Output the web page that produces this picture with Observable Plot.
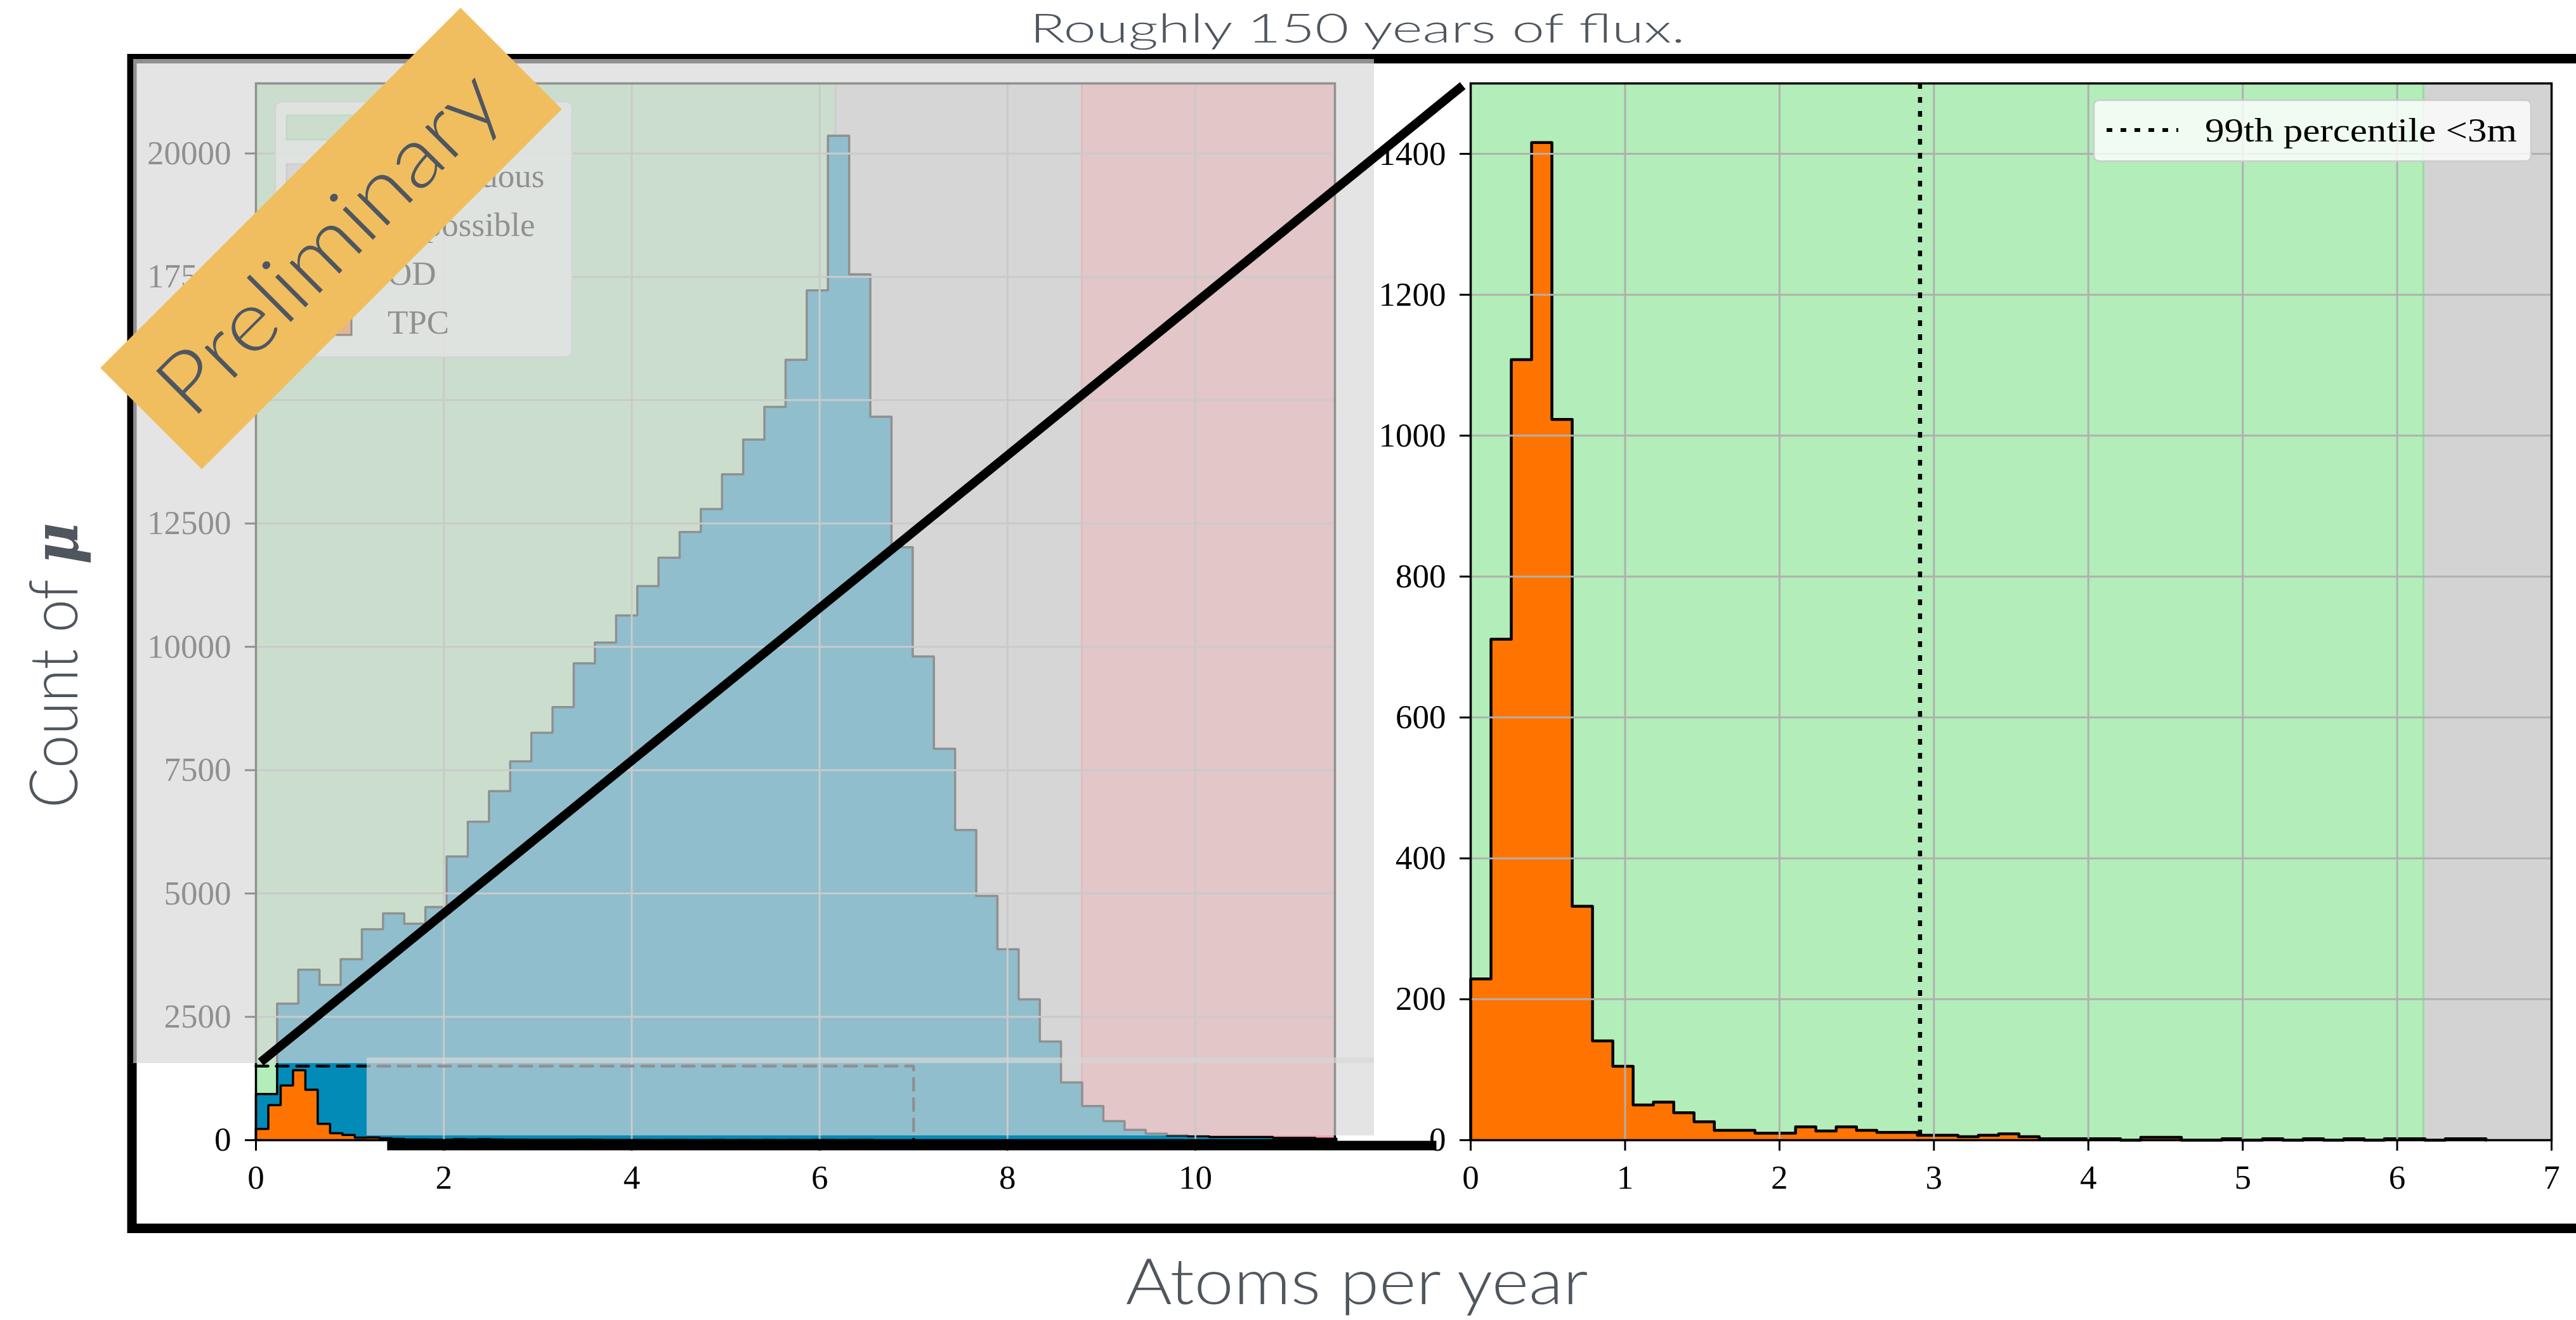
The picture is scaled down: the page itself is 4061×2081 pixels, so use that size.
<!DOCTYPE html>
<html>
<head>
<meta charset="utf-8">
<script src="https://cdn.jsdelivr.net/npm/d3@7"></script>
<script src="https://cdn.jsdelivr.net/npm/@observablehq/plot@0.6"></script>
<style>
  body { margin: 0; background: #fff; }
  #root { position: relative; width: 4061px; height: 2081px; overflow: hidden; background: #fff; }
  #root > svg { position: absolute; }
</style>
</head>
<body>
<div id="root"></div>
<script>
// ---------------- DATA ----------------
const titleText = "Roughly 150 years of flux.";
const xLabelText = "Atoms per year";
const yLabelText = "Count of ";
const yLabelSymbol = "μ";
const bannerText = "Preliminary";

// OD histogram (all muons), left panel
const odBinWidth = 0.2255;
const odCounts = [935, 2767, 3456, 3146, 3668, 4274, 4597, 4386, 4724, 5751,
  6455, 7074, 7679, 8256, 8777, 9664, 10086, 10635, 11230, 11807,
  12328, 12793, 13497, 14200, 14862, 15819, 17226, 20359, 17550, 14665,
  12019, 9805, 7933, 6286, 4949, 3870, 2855, 1998, 1171, 690,
  385, 208, 132, 96, 81, 65, 65, 65, 45, 45, 30];

// TPC histogram, both panels
const tpcBinWidth = 0.1315;
const tpcCounts = [229, 711, 1108, 1416, 1023, 332, 141, 105, 50, 54,
  39, 26, 14, 14, 10, 10, 19, 13, 19, 14,
  11, 11, 7, 7, 5, 7, 9, 5, 2, 2,
  2, 2, 0, 4, 4, 0, 0, 2, 0, 2,
  0, 2, 0, 2, 0, 2, 2, 0, 2, 2];

const p99 = 2.91;                       // 99th percentile line
const regionNames = ["Possible", "Ambiguous", "Impossible"];
const regionEdges = [0, 6.17, 8.79, 11.485];
const leftXDomain = [0, 11.485];
const leftYDomain = [0, 21420];
const zoomXDomain = [0, 7];
const zoomYDomain = [0, 1500];
const leftXTicks = [0, 2, 4, 6, 8, 10];
const leftYTicks = [0, 2500, 5000, 7500, 10000, 12500, 15000, 17500, 20000];
const rightXTicks = [0, 1, 2, 3, 4, 5, 6, 7];
const rightYTicks = [0, 200, 400, 600, 800, 1000, 1200, 1400];
const legendLabels = ["Possible", "Ambiguous", "Impossible", "OD", "TPC"];
const rightLegendLabel = "99th percentile <3m";
const bottomLinkX = [1.4, -0.22];       // bottom connector, left-data x to right-data x

// ---------------- STYLE ----------------
const C = {
  green: "#b3edb9", greenEdge: "#98dba2",
  gray: "#d3d3d3", grayEdge: "#bdbdbd",
  red: "#f7a3ab", redEdge: "#f08a92",
  blue: "#038bb8", orange: "#ff7400",
  grid: "#b0b0b0", text: "#50565e", banner: "#f0be5f"
};
const regionFill = [C.green, C.gray, C.red];
const regionEdge = [C.greenEdge, C.grayEdge, C.redEdge];
const legendFill = [C.green, C.gray, C.red, C.blue, C.orange];
const legendStroke = [C.greenEdge, C.grayEdge, C.redEdge, "black", "black"];
const serif = "'Liberation Serif', 'Times New Roman', serif";
const sans = "Lato, Inter, 'Open Sans', sans-serif";
const TICK_FS = 53;

// ---------------- HELPERS ----------------
function stepPoints(counts, w) {
  const pts = [{x: 0, y: 0}];
  counts.forEach((c, i) => pts.push({x: i * w, y: c}));
  pts.push({x: counts.length * w, y: counts[counts.length - 1]});
  pts.push({x: counts.length * w, y: 0});
  return pts;
}
const odPts = stepPoints(odCounts, odBinWidth);
const tpcPts = stepPoints(tpcCounts, tpcBinWidth);

function spans(xmax) {
  const out = [];
  for (let i = 0; i < regionNames.length; i++) {
    const x1 = regionEdges[i], x2 = Math.min(regionEdges[i + 1], xmax);
    if (x1 < xmax) out.push({name: regionNames[i], x1, x2, fill: regionFill[i], edge: regionEdge[i]});
  }
  return out;
}
const leftSpans = spans(leftXDomain[1]);
const rightSpans = spans(zoomXDomain[1]);
const zoomBox = [
  {x: zoomXDomain[0], y: zoomYDomain[1]},
  {x: zoomXDomain[1], y: zoomYDomain[1]},
  {x: zoomXDomain[1], y: zoomYDomain[0]}
];

const gridStyle = {stroke: C.grid, strokeOpacity: 1, strokeWidth: 3};
const axisStyle = {tickSize: 17, tickPadding: 22, fontSize: TICK_FS, label: null, strokeWidth: 3, tickFormat: d => String(d)};

// ---------------- LEFT PLOT ----------------
const leftPlot = Plot.plot({
  width: 2166, height: 1950,
  marginLeft: 403, marginRight: 62, marginTop: 131, marginBottom: 153,
  x: {domain: leftXDomain},
  y: {domain: leftYDomain},
  color: {type: "identity"},
  style: {background: "transparent", overflow: "visible", fontFamily: serif, color: "black"},
  marks: [
    Plot.rect(leftSpans, {x1: "x1", x2: "x2", fill: "fill"}),
    Plot.ruleX(leftSpans.slice(0, -1), {x: "x2", stroke: "edge", strokeWidth: 3}),
    Plot.ruleX(leftSpans.slice(1), {x: "x1", stroke: "edge", strokeWidth: 3}),
    Plot.areaY(odPts, {x: "x", y: "y", curve: "step-after", fill: C.blue}),
    Plot.line(odPts, {x: "x", y: "y", curve: "step-after", stroke: "black", strokeWidth: 3.5}),
    Plot.areaY(tpcPts, {x: "x", y: "y", curve: "step-after", fill: C.orange}),
    Plot.line(tpcPts, {x: "x", y: "y", curve: "step-after", stroke: "black", strokeWidth: 3.5}),
    Plot.gridX(leftXTicks, gridStyle),
    Plot.gridY(leftYTicks, gridStyle),
    Plot.line(zoomBox, {x: "x", y: "y", stroke: "black", strokeWidth: 4.5, strokeDasharray: "19,13"}),
    Plot.frame({stroke: "black", strokeWidth: 3.5}),
    Plot.axisX(leftXTicks, axisStyle),
    Plot.axisY(leftYTicks, axisStyle)
  ]
});

// ---------------- RIGHT PLOT ----------------
const RIGHT_LEFT = 2166;
const rightPlot = Plot.plot({
  width: 4061 - RIGHT_LEFT, height: 1950,
  marginLeft: 152, marginRight: 39, marginTop: 131, marginBottom: 153,
  x: {domain: zoomXDomain},
  y: {domain: zoomYDomain},
  color: {type: "identity"},
  style: {background: "transparent", overflow: "visible", fontFamily: serif, color: "black"},
  marks: [
    Plot.rect(rightSpans, {x1: "x1", x2: "x2", fill: "fill"}),
    Plot.ruleX(rightSpans.slice(0, -1), {x: "x2", stroke: "edge", strokeWidth: 3}),
    Plot.areaY(tpcPts, {x: "x", y: "y", curve: "step-after", fill: C.orange}),
    Plot.line(tpcPts, {x: "x", y: "y", curve: "step-after", stroke: "black", strokeWidth: 4.5}),
    Plot.gridX(rightXTicks, gridStyle),
    Plot.gridY(rightYTicks, gridStyle),
    Plot.ruleX([p99], {stroke: "black", strokeWidth: 6.5, strokeDasharray: "9,13"}),
    Plot.frame({stroke: "black", strokeWidth: 3.5}),
    Plot.axisX(rightXTicks, axisStyle),
    Plot.axisY(rightYTicks, axisStyle)
  ]
});

const root = document.getElementById("root");
leftPlot.style.left = "0px"; leftPlot.style.top = "0px";
rightPlot.style.left = RIGHT_LEFT + "px"; rightPlot.style.top = "0px";
root.appendChild(leftPlot);
root.appendChild(rightPlot);

// ---------------- OVERLAY SVGs ----------------
const NS = "http://www.w3.org/2000/svg";
function mk(tag, attrs, parent, text) {
  const e = document.createElementNS(NS, tag);
  for (const k in attrs) e.setAttribute(k, attrs[k]);
  if (text != null) e.textContent = text;
  if (parent) parent.appendChild(e);
  return e;
}
function makeLayer() {
  const s = mk("svg", {width: 4061, height: 2081, viewBox: "0 0 4061 2081"}, root);
  s.style.left = "0px"; s.style.top = "0px"; s.style.overflow = "visible";
  return s;
}

// Layer under the fade: frame + left legend
const underLayer = makeLayer();
mk("rect", {x: 208, y: 92.5, width: 4200, height: 1844, fill: "none", stroke: "black", "stroke-width": 15}, underLayer);
const lg = mk("g", {}, underLayer);
mk("rect", {x: 434, y: 160, width: 468, height: 403, rx: 10, fill: "white", "fill-opacity": 0.8, stroke: "#cccccc", "stroke-width": 2.5}, lg);
legendLabels.forEach((lab, i) => {
  const cy = 201 + i * 77;
  mk("rect", {x: 452, y: cy - 19, width: 102, height: 38, fill: legendFill[i], stroke: legendStroke[i], "stroke-width": 3}, lg);
  mk("text", {x: 611, y: cy + 17, "font-family": serif, "font-size": TICK_FS, fill: "black"}, lg, lab);
});

// Fade layer (the washed-out full-range figure)
const fadeLayer = makeLayer();
mk("rect", {x: 210, y: 93, width: 1956, height: 1583, fill: "rgb(214,214,214)", "fill-opacity": 0.67}, fadeLayer);
mk("rect", {x: 578, y: 1667, width: 1588, height: 123, fill: "rgb(214,214,214)", "fill-opacity": 0.67}, fadeLayer);

// Top layer: connectors, banner, texts, right legend
const topLayer = makeLayer();
const lx = leftPlot.scale("x"), ly = leftPlot.scale("y");
const rx = rightPlot.scale("x"), ry = rightPlot.scale("y");
mk("line", {
  x1: lx.apply(zoomXDomain[0]) + 8, y1: ly.apply(zoomYDomain[1]) - 6,
  x2: RIGHT_LEFT + rx.apply(zoomXDomain[0]) - 12, y2: ry.apply(zoomYDomain[1]) + 4,
  stroke: "black", "stroke-width": 14
}, topLayer);
mk("line", {
  x1: lx.apply(bottomLinkX[0]), y1: ly.apply(0) + 9,
  x2: RIGHT_LEFT + rx.apply(bottomLinkX[1]), y2: ly.apply(0) + 9,
  stroke: "black", "stroke-width": 15
}, topLayer);

// right legend
const rl = mk("g", {}, topLayer);
mk("rect", {x: 3301, y: 158, width: 689, height: 96, rx: 8, fill: "white", "fill-opacity": 0.8, stroke: "#cccccc", "stroke-width": 2.5}, rl);
mk("line", {x1: 3321, y1: 205, x2: 3434, y2: 205, stroke: "black", "stroke-width": 6, "stroke-dasharray": "9,13"}, rl);
mk("text", {x: 3476, y: 223, "font-family": serif, "font-size": TICK_FS, fill: "black", textLength: 492, lengthAdjust: "spacingAndGlyphs"}, rl, rightLegendLabel);

// banner
const bg = mk("g", {transform: "translate(522,376) rotate(-45)"}, topLayer);
mk("rect", {x: -401.5, y: -113, width: 803, height: 226, fill: C.banner}, bg);
mk("text", {x: -8, y: 48, "text-anchor": "middle", "font-family": sans, "font-weight": 300, "font-size": 135,
  fill: "#4f5660", textLength: 700, lengthAdjust: "spacingAndGlyphs"}, bg, bannerText);

// title & axis labels
mk("text", {x: 2140, y: 67, "text-anchor": "middle", "font-family": sans, "font-weight": 300, "font-size": 64,
  fill: C.text, textLength: 1033, lengthAdjust: "spacingAndGlyphs"}, topLayer, titleText);
mk("text", {x: 2139, y: 2056, "text-anchor": "middle", "font-family": sans, "font-weight": 300, "font-size": 100,
  fill: C.text, textLength: 729, lengthAdjust: "spacingAndGlyphs"}, topLayer, xLabelText);
const yl = mk("text", {transform: "translate(122,1049) rotate(-90)", "text-anchor": "middle", "font-family": sans,
  "font-weight": 300, "font-size": 105, fill: C.text, textLength: 450, lengthAdjust: "spacingAndGlyphs"}, topLayer);
mk("tspan", {}, yl, yLabelText);
mk("tspan", {"font-family": "'DejaVu Serif', serif", "font-style": "italic", "font-weight": "bold", "font-size": 100}, yl, yLabelSymbol);
</script>
</body>
</html>
